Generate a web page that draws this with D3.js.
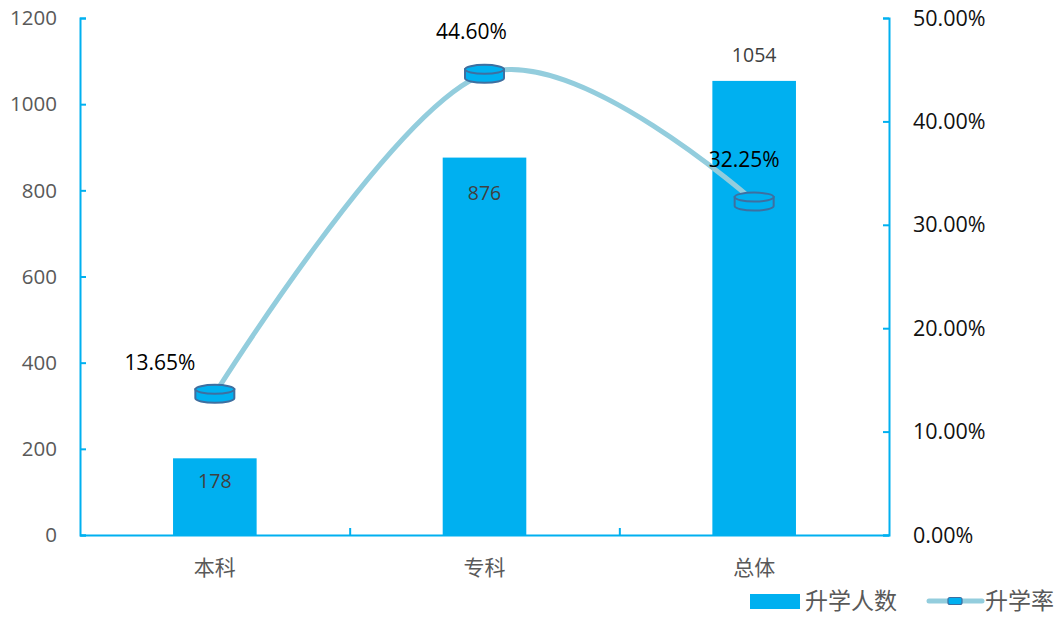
<!DOCTYPE html>
<html><head><meta charset="utf-8">
<script src="https://cdn.jsdelivr.net/npm/d3@7"></script>
<style>body{margin:0;background:#fff}svg{display:block}</style>
</head><body><svg id="c" width="1063" height="617"></svg>
<script>
const categories = ["本科", "专科", "总体"];
const counts = [178, 876, 1054];
const rates = [0.1365, 0.4460, 0.3225];
const rateLabels = ["13.65%", "44.60%", "32.25%"];
const leftTicks = [0, 200, 400, 600, 800, 1000, 1200];
const rightTicks = [0, 0.1, 0.2, 0.3, 0.4, 0.5];
const seriesNames = ["升学人数", "升学率"];

const svg = d3.select("#c");
const L = 80, R = 889, T = 18, B = 535;
const blue = "#00B0F0", lineC = "#93CDDD", markStroke = "#3E6FA0";
const numFont = "'Open Sans', 'Noto Sans CJK SC', sans-serif";
const cjkFont = "'Noto Sans CJK SC', sans-serif";

const x = d3.scaleBand().domain(categories).range([L, R]).paddingInner(0.69).paddingOuter(0.345);
const yL = d3.scaleLinear().domain([0, 1200]).range([B, T]);
const yR = d3.scaleLinear().domain([0, 0.5]).range([B, T]);

// bars
svg.append("g").selectAll("rect").data(counts).join("rect")
  .attr("x", (d, i) => x(categories[i]))
  .attr("width", x.bandwidth())
  .attr("y", d => yL(d))
  .attr("height", d => B - yL(d))
  .attr("fill", blue);

// axes
const axisStyle = g => {
  g.select(".domain").attr("stroke", blue).attr("stroke-width", 2);
  g.selectAll(".tick line").attr("stroke", blue).attr("stroke-width", 2);
};
const gl = svg.append("g").attr("transform", `translate(${L},0)`)
  .call(d3.axisRight(yL).tickValues(leftTicks).tickSize(6).tickSizeOuter(6).tickFormat(""));
axisStyle(gl);
const gr = svg.append("g").attr("transform", `translate(${R},0)`)
  .call(d3.axisLeft(yR).tickValues(rightTicks).tickSize(6).tickSizeOuter(6).tickFormat(""));
axisStyle(gr);
const xb = d3.scaleLinear().domain([0, 3]).range([L, R]);
const gb = svg.append("g").attr("transform", `translate(0,${B})`)
  .call(d3.axisTop(xb).tickValues([1, 2]).tickSize(7).tickSizeOuter(0).tickFormat(""));
axisStyle(gb);

// tick labels
svg.append("g").selectAll("text").data(leftTicks).join("text")
  .attr("x", 57).attr("y", d => yL(d)).attr("dy", "0.35em")
  .attr("text-anchor", "end").attr("font-family", numFont).attr("font-size", 20.5)
  .attr("fill", "#595959").text(d => d);
svg.append("g").selectAll("text").data(rightTicks).join("text")
  .attr("x", 913).attr("y", d => yR(d)).attr("dy", "0.35em")
  .attr("text-anchor", "start").attr("font-family", numFont).attr("font-size", 21.5)
  .attr("fill", "#111").text(d => d3.format(".2%")(d));
svg.append("g").selectAll("text").data(categories).join("text")
  .attr("x", d => x(d) + x.bandwidth() / 2).attr("y", 568).attr("dy", "0.35em")
  .attr("text-anchor", "middle").attr("font-family", cjkFont).attr("font-size", 21)
  .attr("fill", "#595959").text(d => d);

// line
const cx = i => x(categories[i]) + x.bandwidth() / 2;
const line = d3.line().x((d, i) => cx(i)).y(d => yR(d)).curve(d3.curveCatmullRom.alpha(0));
svg.append("path").datum(rates).attr("d", line)
  .attr("fill", "none").attr("stroke", lineC).attr("stroke-width", 5).attr("stroke-linecap", "round");

// cylinder markers
function cylinder(g, mx, my, w, rh, bh) {
  const rx = w / 2;
  const top = my - bh / 2, bot = my + bh / 2;
  g.append("path")
    .attr("d", `M${mx - rx},${top} L${mx - rx},${bot} A${rx},${rh} 0 0 0 ${mx + rx},${bot} L${mx + rx},${top} Z`)
    .attr("fill", blue).attr("stroke", markStroke).attr("stroke-width", 2);
  g.append("ellipse").attr("cx", mx).attr("cy", top).attr("rx", rx).attr("ry", rh)
    .attr("fill", blue).attr("stroke", markStroke).attr("stroke-width", 2);
}
const mg = svg.append("g");
rates.forEach((r, i) => cylinder(mg, cx(i), yR(r), 39, 4.5, 9));

// rate labels
const rateOff = [[-55, -31], [-13, -42], [-10, -42]];
svg.append("g").selectAll("text").data(rates).join("text")
  .attr("x", (d, i) => cx(i) + rateOff[i][0]).attr("y", (d, i) => yR(d) + rateOff[i][1]).attr("dy", "0.35em")
  .attr("text-anchor", "middle").attr("font-family", numFont).attr("font-size", 21)
  .attr("fill", "#000").text((d, i) => rateLabels[i]);

// count labels
const countOff = [23, 36, -26];
svg.append("g").selectAll("text").data(counts).join("text")
  .attr("x", (d, i) => cx(i)).attr("y", (d, i) => yL(d) + countOff[i]).attr("dy", "0.35em")
  .attr("text-anchor", "middle").attr("font-family", numFont).attr("font-size", 19.5)
  .attr("fill", "#404040").text(d => d);

// legend
const lg = svg.append("g");
lg.append("rect").attr("x", 750).attr("y", 594).attr("width", 50).attr("height", 15).attr("fill", blue);
lg.append("text").attr("x", 805).attr("y", 601).attr("dy", "0.35em").attr("font-family", cjkFont)
  .attr("font-size", 23).attr("fill", "#595959").text(seriesNames[0]);
lg.append("line").attr("x1", 929).attr("x2", 982).attr("y1", 601).attr("y2", 601)
  .attr("stroke", lineC).attr("stroke-width", 5).attr("stroke-linecap", "round");
lg.append("rect").attr("x", 948).attr("y", 597.5).attr("width", 14).attr("height", 7).attr("rx", 2)
  .attr("fill", blue).attr("stroke", markStroke).attr("stroke-width", 1.2);
lg.append("text").attr("x", 985).attr("y", 601).attr("dy", "0.35em").attr("font-family", cjkFont)
  .attr("font-size", 23).attr("fill", "#595959").text(seriesNames[1]);
</script></body></html>
